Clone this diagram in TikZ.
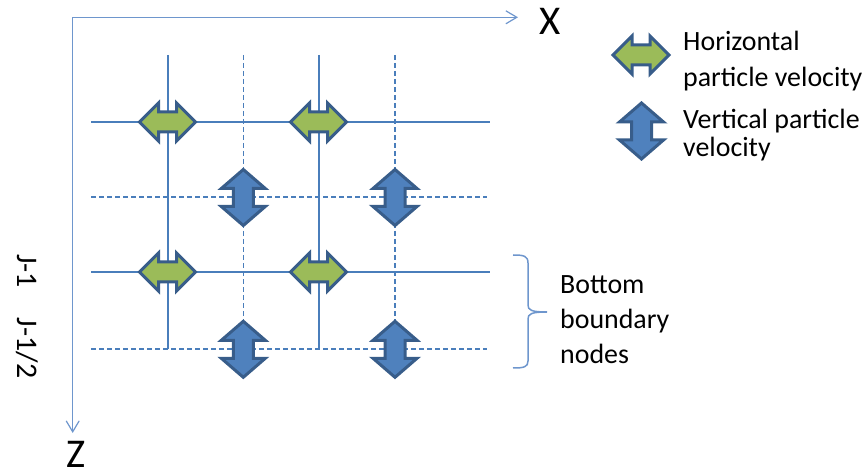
\documentclass[tikz,border=0pt]{standalone}
\usepackage{fontspec}
\setmainfont{Carlito}
\usetikzlibrary{arrows.meta}
\definecolor{gridblue}{RGB}{74,126,187}
\definecolor{axisblue}{RGB}{110,150,205}
\definecolor{edgeblue}{RGB}{56,93,138}
\definecolor{hgreen}{RGB}{155,187,89}
\definecolor{vblue}{RGB}{79,129,189}
\begin{document}
\begin{tikzpicture}[x=1bp,y=-1bp,
  solidline/.style={draw=gridblue,line width=2bp},
  dashline/.style={draw=gridblue,line width=1.3bp,dash pattern=on 5bp off 3bp},
  axisline/.style={draw=axisblue,line width=1.5bp,-{Straight Barb[length=11bp,width=13bp,line width=1.2bp]}},
  bracestyle/.style={draw=axisblue,line width=1.5bp},
  arrowedge/.style={draw=edgeblue,line width=3bp,line join=miter},
  txt/.style={anchor=base west,inner sep=0,font=\fontsize{28}{34}\selectfont},
  axislabel/.style={anchor=base,inner sep=0,font=\fontsize{41}{41}\selectfont},
  rowlabel/.style={rotate=-90,anchor=base,inner sep=0,font=\fontsize{30}{30}\selectfont},
  harrow/.pic={\path[arrowedge,fill=hgreen] (-28,0) -- (-9,-19) -- (-9,-10) -- (9,-10) -- (9,-19) -- (28,0) -- (9,19) -- (9,10) -- (-9,10) -- (-9,19) -- cycle;},
  varrow/.pic={\path[arrowedge,fill=vblue] (0,-28) -- (22,-9) -- (10,-9) -- (10,9) -- (22,9) -- (0,28) -- (-22,9) -- (-10,9) -- (-10,-9) -- (-22,-9) -- cycle;}
]
\useasboundingbox (0,0) rectangle (868,474);

% axes
\coordinate (O) at (72.7,17.3);
\coordinate (Xend) at (518,17.3);
\coordinate (Zend) at (72.7,433);
\draw[axisline] (O) -- (Xend);
\draw[axisline] (O) -- (Zend);
\node[axislabel] (xlabel) at (550,35) {X};
\node[axislabel] (zlabel) at (76,467) {Z};

% grid coordinates
\coordinate (hs1a) at (91,122);  \coordinate (hs1b) at (490,122);
\coordinate (hs2a) at (91,272);  \coordinate (hs2b) at (490,272);
\coordinate (hd1a) at (91,197);  \coordinate (hd1b) at (487,197);
\coordinate (hd2a) at (91,349);  \coordinate (hd2b) at (487,349);
\coordinate (vs1a) at (167.5,55); \coordinate (vs1b) at (167.5,349);
\coordinate (vs2a) at (318.5,55); \coordinate (vs2b) at (318.5,349);
\coordinate (vd1a) at (243.3,55); \coordinate (vd1b) at (243.3,349);
\coordinate (vd2a) at (395,55);   \coordinate (vd2b) at (395,349);

\draw[solidline] (hs1a) -- (hs1b);
\draw[solidline] (hs2a) -- (hs2b);
\draw[dashline] (hd1a) -- (hd1b);
\draw[dashline] (hd2a) -- (hd2b);
\draw[solidline] (vs1a) -- (vs1b);
\draw[solidline] (vs2a) -- (vs2b);
\draw[dashline] (vd1a) -- (vd1b);
\draw[dashline] (vd2a) -- (vd2b);

% velocity arrows
\pic (h1) at (167.5,122) {harrow};
\pic (h2) at (318.5,122) {harrow};
\pic (h3) at (167.5,272) {harrow};
\pic (h4) at (318.5,272) {harrow};
\pic (v1) at (243.3,197.5) {varrow};
\pic (v2) at (395,197.5) {varrow};
\pic (v3) at (243.3,349.3) {varrow};
\pic (v4) at (395,349.3) {varrow};

% row labels
\node[rowlabel] (jone) at (17,271) {J-1};
\node[rowlabel] (jhalf) at (17,348) {J-1/2};

% brace
\draw[bracestyle] (513,255) .. controls (524,255) and (528,256) .. (528,263)
  -- (528,305) .. controls (528,310) and (531,312) .. (547,312)
  .. controls (531,312) and (528,314) .. (528,319)
  -- (528,361) .. controls (528,367) and (524,368) .. (513,368);
\node[txt] (bt1) at (560,293.3) {Bottom};
\node[txt] (bt2) at (560,328.3) {boundary};
\node[txt] (bt3) at (560,363.3) {nodes};

% legend
\pic (hleg) at (641,55) {harrow};
\pic (vleg) at (641.5,131) {varrow};
\node[txt] (lg1) at (683,51) {Horizontal};
\node[txt] (lg2) at (683,86.7) {particle velocity};
\node[txt] (lg3) at (683,129) {Vertical particle};
\node[txt] (lg4) at (683,157) {velocity};
\end{tikzpicture}
\end{document}
